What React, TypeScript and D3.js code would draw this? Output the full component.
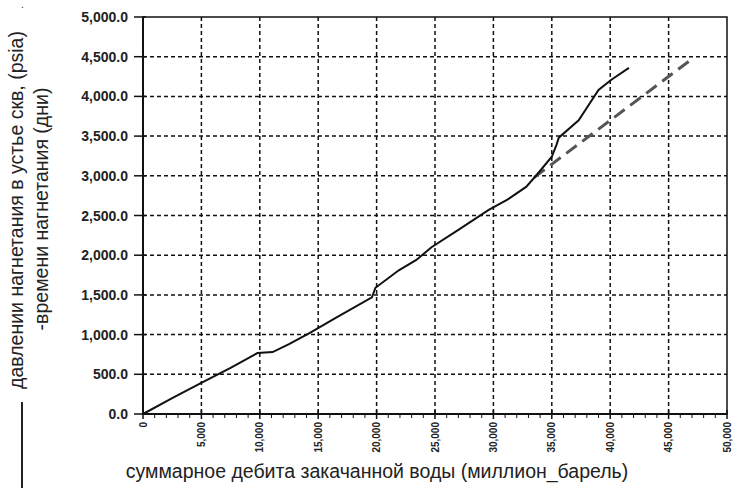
import * as React from 'react';
import {scaleLinear, line, range} from 'd3';

// cumulative injected water (x) vs wellhead pressure / time (y)
const cumWater = [0, 2500, 4950, 7500, 9800, 11100, 12500, 14250, 16500, 19600, 19900, 21900, 23400, 24700, 27000, 29600, 31200, 32800, 33700, 35000, 35400, 35600, 37300, 39000, 40100, 41600];
const pressure = [0, 200, 390, 580, 768, 780, 880, 1020, 1210, 1470, 1590, 1810, 1940, 2100, 2320, 2570, 2700, 2860, 3010, 3240, 3390, 3480, 3700, 4080, 4210, 4360];

// dashed extrapolation
const trendX = [33500, 46900];
const trendY = [2980, 4460];

const xTicks = [0, 5000, 10000, 15000, 20000, 25000, 30000, 35000, 40000, 45000, 50000];
const yTicks = [0, 500, 1000, 1500, 2000, 2500, 3000, 3500, 4000, 4500, 5000];

const yTitle1 = 'давлении нагнетания в устье скв, (psia)';
const yTitle2 = '-времени нагнетания (дни)';
const xTitle = 'суммарное дебита закачанной воды (миллион_барель)';

const margin = {top: 17, left: 143, right: 6, bottom: 74};
const W = 733;
const H = 488;
const width = W - margin.left - margin.right;
const height = H - margin.top - margin.bottom;

const xScale = scaleLinear().domain([0, 50000]).range([0, width]);
const yScale = scaleLinear().domain([0, 5000]).range([height, 0]);

const fmtY = (v: number) => v.toLocaleString('en-US', {minimumFractionDigits: 1, maximumFractionDigits: 1});
const fmtX = (v: number) => v.toLocaleString('en-US');

export default function App() {
    const pts = cumWater.map((d, i) => [d, pressure[i]] as [number, number]);
    const trendPts = trendX.map((d, i) => [d, trendY[i]] as [number, number]);
    const path = line<[number, number]>().x(d => xScale(d[0])).y(d => yScale(d[1]));
    const minor = range(0, 50000, 1000).filter(v => v % 5000 !== 0);

    return (
        <svg width={W} height={H} style={{position: 'absolute', left: 0, top: 0}}
             fontFamily="'Liberation Sans', Arial, sans-serif">
            <rect width={W} height={H} fill="#fff"/>
            <g transform={`translate(${margin.left}, ${margin.top})`}>
                {/* grid */}
                {yTicks.slice(1, -1).map(v =>
                    <line key={'gy' + v} x1={0} x2={width} y1={yScale(v)} y2={yScale(v)}
                          stroke="#111" strokeWidth={1.5} strokeDasharray="4,3"/>
                )}
                {xTicks.slice(1, -1).map(v =>
                    <line key={'gx' + v} x1={xScale(v)} x2={xScale(v)} y1={0} y2={height}
                          stroke="#111" strokeWidth={1.5} strokeDasharray="4,3"/>
                )}
                {/* frame */}
                <rect x={0} y={0} width={width} height={height} fill="none" stroke="#111" strokeWidth={1.5}/>
                <line x1={0} x2={0} y1={0} y2={height} stroke="#111" strokeWidth={2}/>
                <line x1={0} x2={width} y1={height} y2={height} stroke="#111" strokeWidth={2}/>

                {/* y ticks */}
                {yTicks.map(v =>
                    <g key={'ty' + v} transform={`translate(0, ${yScale(v)})`}>
                        <line x1={-9} x2={3} stroke="#111" strokeWidth={1.5}/>
                        <text x={-15} dy="0.36em" textAnchor="end" fontSize={14} fontWeight="bold" fill="#222">{fmtY(v)}</text>
                    </g>
                )}
                {/* x ticks */}
                {minor.map(v =>
                    <line key={'mx' + v} x1={xScale(v)} x2={xScale(v)} y1={height} y2={height + 4}
                          stroke="#111" strokeWidth={1}/>
                )}
                {xTicks.map(v =>
                    <g key={'tx' + v} transform={`translate(${xScale(v)}, ${height})`}>
                        <line y1={-4} y2={5} stroke="#111" strokeWidth={1.5}/>
                        <text transform="rotate(-90)" x={-8} dy="0.36em" textAnchor="end"
                              fontSize={10} fontWeight="bold" fill="#222">{fmtX(v)}</text>
                    </g>
                )}

                {/* series */}
                <path d={path(trendPts)!} fill="none" stroke="#555" strokeWidth={3} strokeDasharray="13,7"/>
                <path d={path(pts)!} fill="none" stroke="#111" strokeWidth={2}/>
            </g>

            {/* titles */}
            <text x={377} y={478} textAnchor="middle" fontSize={19.5} fill="#222">{xTitle}</text>
            <text transform="translate(23, 210) rotate(-90)" textAnchor="middle" fontSize={19.5} fill="#222">{yTitle1}</text>
            <text transform="translate(48, 209) rotate(-90)" textAnchor="middle" fontSize={19.5} fill="#222">{yTitle2}</text>
            <text x={21} y={8} fontSize={10} fill="#222">.</text>
            {/* legend sample */}
            <line x1={22} x2={22} y1={402} y2={H} stroke="#222" strokeWidth={2}/>
        </svg>
    );
}
